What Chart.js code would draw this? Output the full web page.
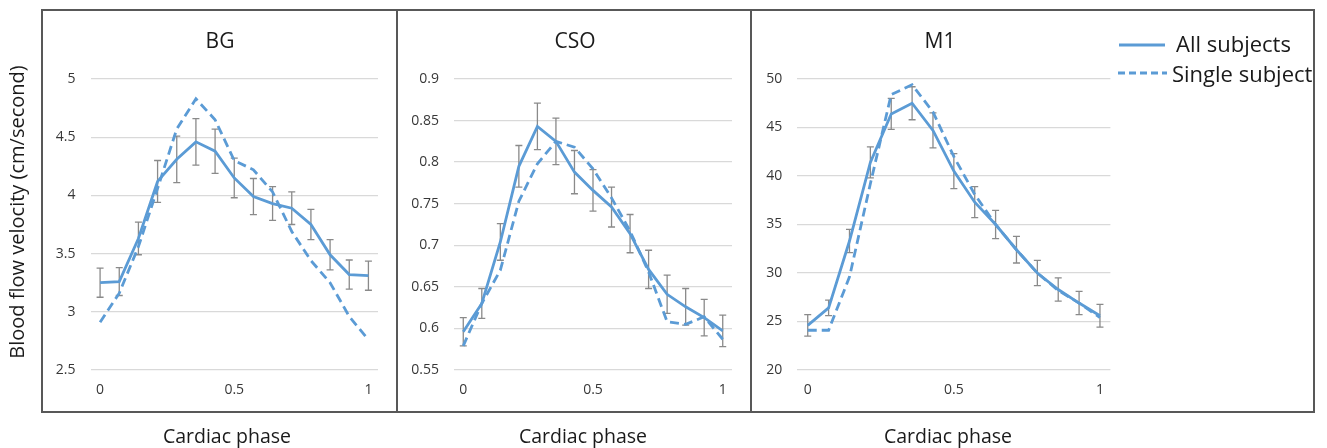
<!DOCTYPE html>
<html>
<head>
<meta charset="utf-8">
<title>Blood flow velocity over the cardiac phase</title>
<script src="https://cdn.jsdelivr.net/npm/chart.js@4.4.1/dist/chart.umd.min.js"></script>
<style>
    html, body { margin: 0; padding: 0; background: #ffffff; }
    #page { position: relative; width: 1327px; height: 448px; overflow: hidden; font-family: 'Open Sans', sans-serif; color: #1a1a1a; }
    canvas { position: absolute; top: 10px; }
    .frame { position: absolute; left: 41px; top: 9px; width: 1274px; height: 404px; border: 2px solid #585858; box-sizing: border-box; pointer-events: none; }
    .vline { position: absolute; top: 9px; width: 2px; height: 404px; background: #585858; pointer-events: none; }
    .ptitle { position: absolute; top: 26px; width: 200px; text-align: center; font-size: 21px; line-height: 28px; white-space: nowrap; }
    .xtitle { position: absolute; top: 426px; width: 240px; text-align: center; font-size: 19.5px; line-height: 20px; white-space: nowrap; }
    .ytitle { position: absolute; left: -183px; top: 200px; width: 400px; text-align: center; font-size: 20px; line-height: 24px; white-space: nowrap; transform: rotate(-90deg); }
    .legtext { position: absolute; font-size: 22px; line-height: 30px; white-space: nowrap; }
</style>
</head>
<body>
<div id="page">
    <canvas id="chartBG" width="356" height="438" style="left:42px"></canvas>
    <canvas id="chartCSO" width="354" height="438" style="left:398px"></canvas>
    <canvas id="chartM1" width="562" height="438" style="left:752px"></canvas>

    <div class="frame"></div>
    <div class="vline" style="left:396px"></div>
    <div class="vline" style="left:750px"></div>

    <div class="ptitle" style="left:120px">BG</div>
    <div class="ptitle" style="left:475px">CSO</div>
    <div class="ptitle" style="left:840px">M1</div>

    <div class="xtitle" style="left:107px">Cardiac phase</div>
    <div class="xtitle" style="left:463px">Cardiac phase</div>
    <div class="xtitle" style="left:828px">Cardiac phase</div>

    <div class="ytitle">Blood flow velocity (cm/second)</div>

    <svg style="position:absolute;left:1110px;top:30px" width="70" height="60">
        <line x1="9" y1="15" x2="55" y2="15" stroke="#5b9bd5" stroke-width="2.8"/>
        <line x1="8" y1="43" x2="57" y2="43" stroke="#5b9bd5" stroke-width="2.8" stroke-dasharray="7 4"/>
    </svg>
    <div class="legtext" style="left:1176px;top:28px">All subjects</div>
    <div class="legtext" style="left:1172px;top:58px">Single subject</div>
</div>

<script>
// Phase cardiaque : 15 points de 0 à 1, étiquettes seulement à 0, 0.5 et 1
const phaseLabels = ['0', '', '', '', '', '', '', '0.5', '', '', '', '', '', '', '1'];

// BG
const bgAll = [3.25, 3.26, 3.63, 4.12, 4.31, 4.46, 4.38, 4.15, 3.99, 3.93, 3.89, 3.75, 3.49, 3.32, 3.31];
const bgErr = [0.125, 0.12, 0.14, 0.18, 0.20, 0.20, 0.19, 0.17, 0.155, 0.145, 0.14, 0.13, 0.13, 0.125, 0.125];
const bgSingle = [2.91, 3.16, 3.56, 4.06, 4.57, 4.83, 4.65, 4.30, 4.22, 4.03, 3.69, 3.44, 3.25, 2.96, 2.76];

// CSO
const csoAll = [0.596, 0.630, 0.704, 0.795, 0.843, 0.825, 0.788, 0.766, 0.746, 0.714, 0.671, 0.641, 0.626, 0.613, 0.597];
const csoErr = [0.017, 0.018, 0.022, 0.025, 0.028, 0.028, 0.026, 0.025, 0.024, 0.023, 0.023, 0.023, 0.022, 0.022, 0.019];
const csoSingle = [0.579, 0.630, 0.670, 0.753, 0.798, 0.825, 0.818, 0.792, 0.757, 0.717, 0.668, 0.608, 0.605, 0.614, 0.587];

// M1
const m1All = [24.6, 26.4, 33.3, 41.4, 46.4, 47.5, 44.7, 40.5, 37.3, 35.0, 32.4, 30.0, 28.3, 26.9, 25.6];
const m1Err = [1.1, 0.8, 1.2, 1.6, 1.6, 1.7, 1.8, 1.8, 1.6, 1.45, 1.37, 1.3, 1.2, 1.2, 1.17];
const m1Single = [24.1, 24.1, 29.6, 39.2, 48.4, 49.4, 46.6, 42.0, 38.1, 35.0, 32.4, 30.0, 28.2, 26.9, 25.4];

const BLUE = '#5b9bd5';
const FONT = "'Open Sans', sans-serif";

/**
 * Barres d'erreur (moyenne ± écart) sur le premier dataset
 */
const errorBarPlugin = {
    id: 'errorBars',
    beforeDatasetsDraw(chart, args, opts) {
        const meta = chart.getDatasetMeta(0);
        const yScale = chart.scales.y;
        const values = chart.data.datasets[0].data;
        const ctx = chart.ctx;
        ctx.save();
        ctx.strokeStyle = opts.color;
        ctx.lineWidth = opts.width;
        meta.data.forEach((pt, i) => {
            const top = yScale.getPixelForValue(values[i] + opts.errors[i]);
            const bottom = yScale.getPixelForValue(values[i] - opts.errors[i]);
            ctx.beginPath();
            ctx.moveTo(pt.x, top);
            ctx.lineTo(pt.x, bottom);
            ctx.moveTo(pt.x - opts.cap, top);
            ctx.lineTo(pt.x + opts.cap, top);
            ctx.moveTo(pt.x - opts.cap, bottom);
            ctx.lineTo(pt.x + opts.cap, bottom);
            ctx.stroke();
        });
        ctx.restore();
    }
};

function createPanel(canvasId, allValues, errValues, singleValues, yMin, yMax, yStep, yAxisWidth, padRight) {
    const canvas = document.getElementById(canvasId);
    return new Chart(canvas.getContext('2d'), {
        type: 'line',
        data: {
            labels: phaseLabels,
            datasets: [
                {
                    label: 'All subjects',
                    data: allValues,
                    borderColor: BLUE,
                    borderWidth: 2.8,
                    pointRadius: 0,
                    tension: 0
                },
                {
                    label: 'Single subject',
                    data: singleValues,
                    borderColor: BLUE,
                    borderWidth: 2.8,
                    borderDash: [9, 5],
                    pointRadius: 0,
                    tension: 0
                }
            ]
        },
        options: {
            responsive: false,
            animation: false,
            layout: { padding: { top: 69, right: padRight, bottom: 0, left: 0 } },
            plugins: {
                legend: { display: false },
                tooltip: { enabled: false },
                errorBars: { errors: errValues, color: '#8a8a8a', width: 1.3, cap: 3.5 }
            },
            scales: {
                x: {
                    type: 'category',
                    offset: true,
                    grid: { display: false, drawTicks: false },
                    border: { display: false },
                    ticks: {
                        autoSkip: false,
                        maxRotation: 0,
                        padding: 12,
                        color: '#383838',
                        font: { family: FONT, size: 14 }
                    },
                    afterFit: (scale) => { scale.height = 78; }
                },
                y: {
                    min: yMin,
                    max: yMax,
                    grid: { color: '#d9d9d9', lineWidth: 1.3, drawTicks: false },
                    border: { display: false },
                    ticks: {
                        stepSize: yStep,
                        padding: 15,
                        color: '#383838',
                        font: { family: FONT, size: 14 },
                        callback: (value) => String(Math.round(value * 100) / 100)
                    },
                    afterFit: (scale) => { scale.width = yAxisWidth; }
                }
            }
        },
        plugins: [errorBarPlugin]
    });
}

createPanel('chartBG', bgAll, bgErr, bgSingle, 2.5, 5, 0.5, 48.5, 20);
createPanel('chartCSO', csoAll, csoErr, csoSingle, 0.55, 0.9, 0.05, 56, 20);
createPanel('chartM1', m1All, m1Err, m1Single, 20, 50, 5, 45.3, 203.6);
</script>
</body>
</html>
